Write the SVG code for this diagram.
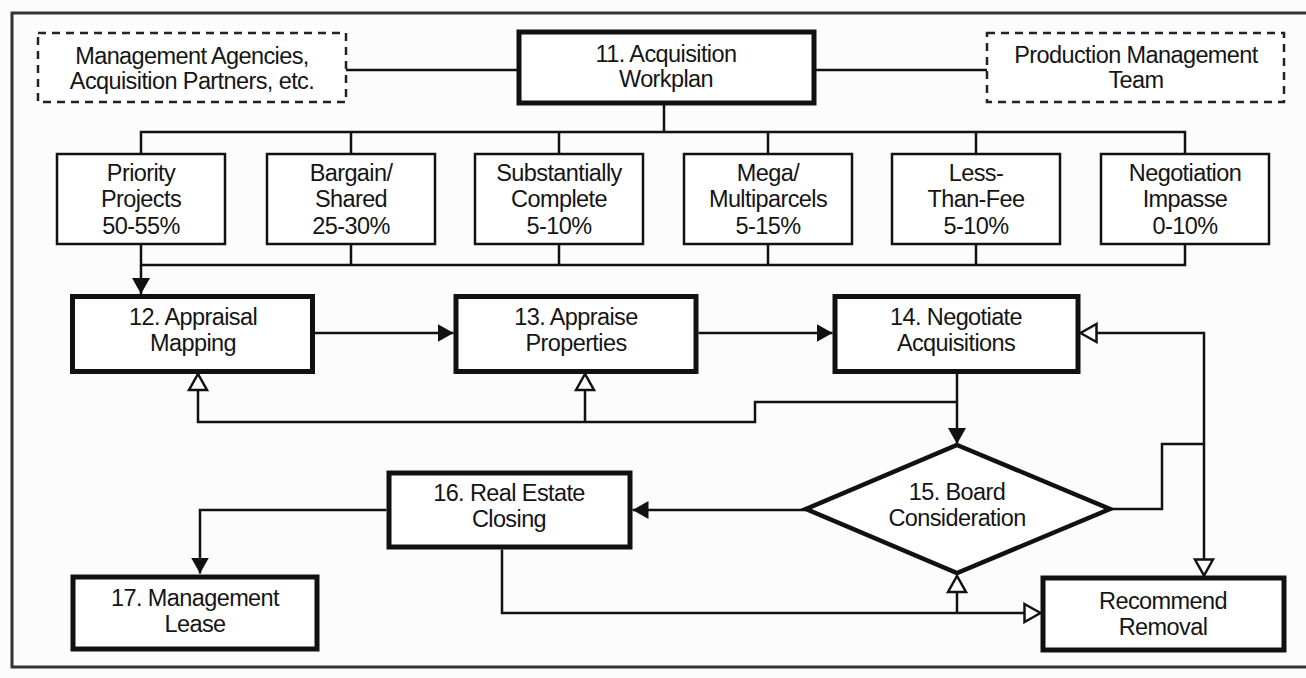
<svg xmlns="http://www.w3.org/2000/svg" width="1306" height="678" viewBox="0 0 1306 678">
<style>
.bg{fill:#fcfcfc}
.frame{fill:none;stroke:#333;stroke-width:3}
.thick{fill:#fff;stroke:#111;stroke-width:5}
.thin{fill:#fff;stroke:#111;stroke-width:2.5}
.dash{fill:#fff;stroke:#222;stroke-width:2.5;stroke-dasharray:8 6}
.c{fill:none;stroke:#111;stroke-width:2.5}
text{font-family:"Liberation Sans",Arial,sans-serif;font-size:23.5px;fill:#151515;text-anchor:middle;letter-spacing:-0.6px}
</style>
<defs>
<marker id="fa" markerUnits="userSpaceOnUse" viewBox="0 0 16 18" refX="16" refY="9" markerWidth="16" markerHeight="18" orient="auto-start-reverse">
<path d="M0,0 L16,9 L0,18 Z" fill="#111"/>
</marker>
<marker id="ha" markerUnits="userSpaceOnUse" viewBox="-2 -2 20 22" refX="16" refY="9" markerWidth="20" markerHeight="22" orient="auto-start-reverse">
<path d="M0,0 L16,9 L0,18 Z" fill="#fff" stroke="#111" stroke-width="2.5"/>
</marker>
</defs>
<rect class="bg" x="0" y="0" width="1306" height="678"/>
<path class="frame" d="M1306,13 H12 V667 H1306"/>

<g id="connectors">
<path class="c" d="M346,70 H517"/>
<path class="c" d="M816,70 H987"/>
<path class="c" d="M664,105 V132"/>
<path class="c" d="M141,154 V132 H1185 V154"/>
<path class="c" d="M351,132 V154 M559,132 V154 M768,132 V154 M976,132 V154"/>
<path class="c" d="M141,244 V265 H1185 V244"/>
<path class="c" d="M351,244 V265 M559,244 V265 M768,244 V265 M976,244 V265"/>
<path class="c" d="M141,265 V294" marker-end="url(#fa)"/>
<path class="c" d="M315,333 H453.5" marker-end="url(#fa)"/>
<path class="c" d="M698.5,333 H832.5" marker-end="url(#fa)"/>
<path class="c" d="M957,374 V444" marker-end="url(#fa)"/>
<path class="c" d="M957,402 H755 V422 H198 V374" marker-end="url(#ha)"/>
<path class="c" d="M585,422 V374" marker-end="url(#ha)"/>
<path class="c" d="M806,510 H632.5" marker-end="url(#fa)"/>
<path class="c" d="M1110,509 H1162 V444 H1204"/>
<path class="c" d="M1080.5,333 H1204 V575.5" marker-start="url(#ha)" marker-end="url(#ha)"/>
<path class="c" d="M386.5,510 H200 V573.5" marker-end="url(#fa)"/>
<path class="c" d="M502,549.5 V613 H1040.5" marker-end="url(#ha)"/>
<path class="c" d="M957,613 V576" marker-end="url(#ha)"/>
</g>

<g id="n-agencies">
<rect class="dash" x="38" y="33" width="308" height="69"/>
<text x="192" y="64">Management Agencies,</text>
<text x="192" y="89">Acquisition Partners, etc.</text>
</g>
<g id="n11">
<rect class="thick" x="519" y="32" width="295" height="71"/>
<text x="666" y="62">11. Acquisition</text>
<text x="666" y="87">Workplan</text>
</g>
<g id="n-production">
<rect class="dash" x="987" y="33" width="297" height="69"/>
<text x="1136" y="63">Production Management</text>
<text x="1136" y="88">Team</text>
</g>

<g id="n-priority">
<rect class="thin" x="57" y="154" width="168" height="90"/>
<text x="141" y="181">Priority</text>
<text x="141" y="207">Projects</text>
<text x="141" y="234">50-55%</text>
</g>
<g id="n-bargain">
<rect class="thin" x="267" y="154" width="168" height="90"/>
<text x="351" y="181">Bargain/</text>
<text x="351" y="207">Shared</text>
<text x="351" y="234">25-30%</text>
</g>
<g id="n-substantially">
<rect class="thin" x="475" y="154" width="168" height="90"/>
<text x="559" y="181">Substantially</text>
<text x="559" y="207">Complete</text>
<text x="559" y="234">5-10%</text>
</g>
<g id="n-mega">
<rect class="thin" x="684" y="154" width="168" height="90"/>
<text x="768" y="181">Mega/</text>
<text x="768" y="207">Multiparcels</text>
<text x="768" y="234">5-15%</text>
</g>
<g id="n-lessthanfee">
<rect class="thin" x="892" y="154" width="168" height="90"/>
<text x="976" y="181">Less-</text>
<text x="976" y="207">Than-Fee</text>
<text x="976" y="234">5-10%</text>
</g>
<g id="n-impasse">
<rect class="thin" x="1101" y="154" width="168" height="90"/>
<text x="1185" y="181">Negotiation</text>
<text x="1185" y="207">Impasse</text>
<text x="1185" y="234">0-10%</text>
</g>

<g id="n12">
<rect class="thick" x="72.5" y="296.5" width="240" height="75"/>
<text x="193" y="325">12. Appraisal</text>
<text x="193" y="351">Mapping</text>
</g>
<g id="n13">
<rect class="thick" x="456" y="296.5" width="240" height="75"/>
<text x="576" y="325">13. Appraise</text>
<text x="576" y="351">Properties</text>
</g>
<g id="n14">
<rect class="thick" x="835" y="296.5" width="243" height="75"/>
<text x="956" y="325">14. Negotiate</text>
<text x="956" y="351">Acquisitions</text>
</g>
<g id="n15">
<polygon points="957,445 1110,509 957,573 806,509" fill="#fff" stroke="#111" stroke-width="4.5" stroke-linejoin="miter"/>
<text x="957" y="500">15. Board</text>
<text x="957" y="526">Consideration</text>
</g>
<g id="n16">
<rect class="thick" x="389" y="473" width="241" height="74"/>
<text x="509" y="501">16. Real Estate</text>
<text x="509" y="527">Closing</text>
</g>
<g id="n17">
<rect class="thick" x="73" y="577" width="244" height="72"/>
<text x="195" y="606">17. Management</text>
<text x="195" y="632">Lease</text>
</g>
<g id="n-recommend">
<rect class="thick" x="1043" y="578" width="241" height="72"/>
<text x="1163" y="609">Recommend</text>
<text x="1163" y="635">Removal</text>
</g>
</svg>
